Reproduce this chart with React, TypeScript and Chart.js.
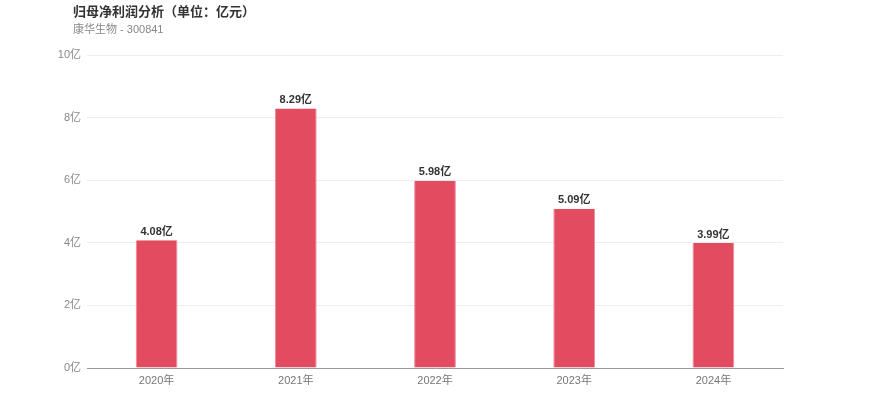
import { useEffect, useRef } from 'react';
import { Chart, registerables } from 'chart.js';

Chart.register(...registerables);

const years = ['2020年', '2021年', '2022年', '2023年', '2024年'];
const profits = [4.08, 8.29, 5.98, 5.09, 3.99];
const yTicks = [0, 2, 4, 6, 8, 10];

const FONT = '"Liberation Sans", "Noto Sans CJK SC", sans-serif';

// draws "x.xx亿" above each bar
const barLabels = {
  id: 'barLabels',
  afterDatasetsDraw(chart: Chart) {
    const ctx = chart.ctx;
    const meta = chart.getDatasetMeta(0);
    ctx.save();
    ctx.font = `bold 11px ${FONT}`;
    ctx.fillStyle = '#333333';
    ctx.textAlign = 'center';
    ctx.textBaseline = 'bottom';
    meta.data.forEach((bar: any, i: number) => {
      ctx.fillText(profits[i].toFixed(2) + '亿', bar.x, bar.y - 3);
    });
    ctx.restore();
  },
};

export default function App() {
  const canvasRef = useRef<HTMLCanvasElement>(null);

  useEffect(() => {
    if (!canvasRef.current) return;
    const chart = new Chart(canvasRef.current, {
      type: 'bar',
      data: {
        labels: years,
        datasets: [
          {
            data: profits,
            backgroundColor: '#e34b60',
            borderColor: '#f28a98',
            borderWidth: { left: 1, right: 1, top: 0, bottom: 0 },
            barPercentage: 0.3,
            categoryPercentage: 1,
          },
        ],
      },
      options: {
        animation: false,
        responsive: false,
        maintainAspectRatio: false,
        layout: { padding: { left: 40, right: 87, top: 55, bottom: 19 } },
        plugins: {
          legend: { display: false },
          tooltip: { enabled: false },
        },
        scales: {
          x: {
            grid: { display: false },
            border: { display: true, color: '#999999', width: 1 },
            ticks: {
              color: '#777777',
              font: { family: FONT, size: 11 },
              padding: -2,
            },
            afterFit: (scale: any) => {
              scale.height = 30;
            },
          },
          y: {
            min: 0,
            max: 10,
            afterBuildTicks: (scale: any) => {
              scale.ticks = yTicks.map((v) => ({ value: v }));
            },
            grid: { color: '#eeeeee', drawTicks: false },
            border: { display: false },
            ticks: {
              color: '#888888',
              font: { family: FONT, size: 11 },
              padding: 6,
              callback: (v: any) => v + '亿',
            },
            afterFit: (scale: any) => {
              scale.width = 47;
            },
          },
        },
      },
      plugins: [barLabels],
    });
    return () => chart.destroy();
  }, []);

  return (
    <div style={{ position: 'absolute', left: 0, top: 0, width: 870, height: 417, background: '#fff' }}>
      <div
        style={{
          position: 'absolute',
          left: 73,
          top: 1,
          fontFamily: FONT,
          fontSize: 13,
          fontWeight: 'bold',
          color: '#333333',
        }}
      >
        归母净利润分析（单位：亿元）
      </div>
      <div
        style={{
          position: 'absolute',
          left: 73,
          top: 20,
          fontFamily: FONT,
          fontSize: 11,
          color: '#888888',
        }}
      >
        康华生物 - 300841
      </div>
      <canvas ref={canvasRef} width={870} height={417} style={{ display: 'block' }} />
    </div>
  );
}
